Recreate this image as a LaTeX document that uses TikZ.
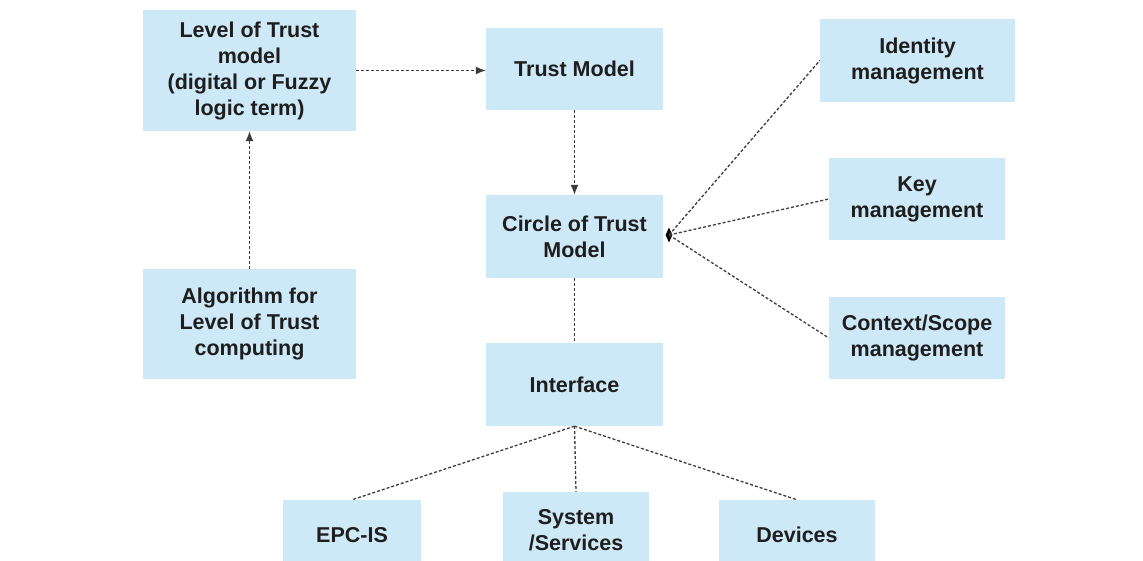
\documentclass[tikz,border=0pt]{standalone}
\usepackage{fontspec}
\setmainfont{Liberation Sans}
\usetikzlibrary{arrows.meta,shapes.geometric}
\definecolor{boxfill}{RGB}{205,232,247}
\definecolor{linecol}{RGB}{60,60,60}
\definecolor{txtcol}{RGB}{30,30,30}
\begin{document}
\begin{tikzpicture}[x=1pt,y=-1pt,
  box/.style={fill=boxfill,draw=none,align=center,inner sep=0pt,
    font=\fontsize{21.5}{26}\selectfont\bfseries,text=txtcol},
  link/.style={draw=linecol,line width=1.3pt,dash pattern=on 3pt off 2pt},
  arr/.style={link,-{Latex[length=10pt,width=8pt]}}
]
\useasboundingbox (0,0) rectangle (1143,561);
\clip (0,0) rectangle (1143,561);
\node[box,minimum width=213pt,minimum height=121pt] (lvl) at (249.5,70.5) {Level of Trust\\model\\(digital or Fuzzy\\logic term)};
\node[box,minimum width=177pt,minimum height=82pt] (tm) at (574.5,69) {Trust Model};
\node[box,minimum width=177pt,minimum height=83pt] (cot) at (574.5,236.5) {Circle of Trust\\Model};
\node[box,minimum width=195pt,minimum height=83pt] (idm) at (917.5,60.5) {Identity\\management};
\node[box,minimum width=176pt,minimum height=82pt] (key) at (917,199) {Key\\management};
\node[box,minimum width=176pt,minimum height=82pt] (ctx) at (917,338) {Context/Scope\\management};
\node[box,minimum width=213pt,minimum height=110pt] (alg) at (249.5,324) {Algorithm for\\Level of Trust\\computing};
\node[box,minimum width=177pt,minimum height=83pt] (itf) at (574.5,384.5) {Interface};
\node[box,minimum width=138pt,minimum height=70pt] (epc) at (352,535) {EPC-IS};
\node[box,minimum width=146pt,minimum height=76pt] (sys) at (576,530) {System\\/Services};
\node[box,minimum width=156pt,minimum height=70pt] (dev) at (797,535) {Devices};
\node[diamond,fill=black,inner sep=0pt,minimum width=7pt,minimum height=15pt] (hub) at (669,235) {};
\draw[arr] (lvl.east) -- (lvl.east -| tm.west);
\draw[arr] (tm.south) -- (cot.north);
\draw[arr] (alg.north) -- (lvl.south);
\draw[link] (cot.south) -- (itf.north);
\draw[link] (hub.center) -- (idm.west);
\draw[link] (hub.center) -- (key.west);
\draw[link] (hub.center) -- (ctx.west);
\draw[link] (itf.south) -- (epc.north);
\draw[link] (itf.south) -- (sys.north);
\draw[link] (itf.south) -- (dev.north);
\end{tikzpicture}
\end{document}
